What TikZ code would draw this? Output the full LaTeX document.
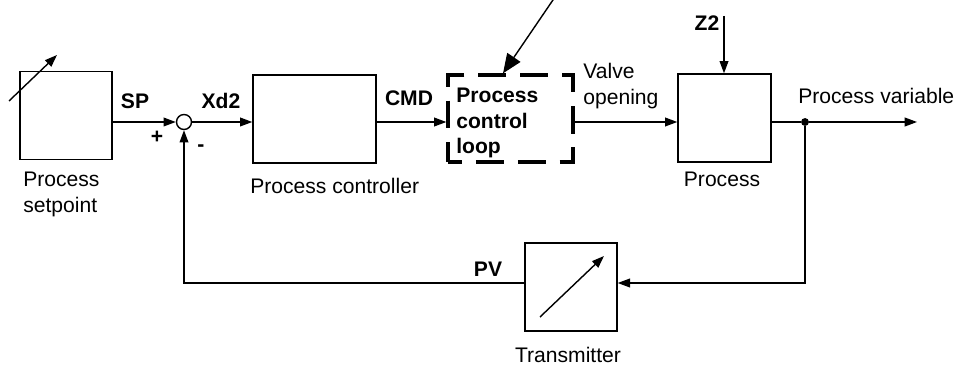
\documentclass[tikz,border=0pt]{standalone}
\usepackage{fontspec}
\setmainfont{Liberation Sans}
\usetikzlibrary{arrows.meta, positioning, calc}

\begin{document}
\begin{tikzpicture}[x=0.02cm, y=-0.02cm, font=\fontsize{12}{14.5}\selectfont,
  block/.style={draw, line width=0.8pt, minimum height=1.76cm, inner sep=0pt},
  sumpt/.style={draw, circle, line width=0.8pt, minimum size=0.3cm, inner sep=0pt},
  dashblock/.style={draw, line width=1.9pt, dash pattern=on 15.9pt off 7.9pt, dash phase=7.9pt,
                    minimum width=2.5cm, minimum height=1.74cm, inner sep=0pt},
  arrow/.style={-{Triangle[length=7pt,width=5pt]}, line width=0.8pt},
  bigarrow/.style={-{Triangle[length=11pt,width=9pt]}, line width=0.8pt},
  sig/.style={font=\fontsize{12}{14.5}\selectfont\bfseries, inner sep=0pt, anchor=north},
  caption/.style={inner sep=0pt, anchor=north, align=center}
]
  \useasboundingbox (0,0) rectangle (959,367);

  % blocks
  \node[block, minimum width=1.84cm] (sp) at (66,115.5) {};
  \node[sumpt] (sum) at (184,122) {};
  \node[block, minimum width=2.46cm] (ctrl) at (314.5,119) {};
  \node[dashblock] (loop) at (510.5,118.5) {};
  \node[block, minimum width=1.86cm] (proc) at (724.5,118) {};
  \node[block, minimum width=1.84cm] (tx) at (571,287) {};
  \node[circle, fill, inner sep=0pt, minimum size=4.5pt] (dot) at (805,122) {};
  \coordinate (out) at (917,122);
  \coordinate (fb) at (805,283);
  \coordinate (z2) at (724,16);
  \coordinate (ptr) at (555,-3);

  % adjustable arrows inside blocks
  \draw[arrow] (9,101) -- (57,55);
  \draw[arrow] (540,317) -- (604,256);

  % signal path
  \draw[arrow] (sum -| sp.east) -- (sum.west);
  \draw[arrow] (sum.east) -- (sum -| ctrl.west);
  \draw[arrow] (sum -| ctrl.east) -- (sum -| loop.west);
  \draw[arrow] (sum -| loop.east) -- (sum -| proc.west);
  \draw[line width=0.8pt] (sum -| proc.east) -- (dot);
  \draw[arrow] (dot) -- (out);
  \draw[arrow] (z2) -- (z2 |- proc.north);
  \draw[bigarrow] (ptr) -- ([xshift=-0.15cm]loop.north);

  % feedback
  \draw[arrow] (dot) -- (fb) -- (fb -| tx.east);
  \draw[arrow] (fb -| tx.west) -| (sum.south);

  % labels
  \node[sig] (splbl) at (135,93) {SP};
  \node[sig] (xdlbl) at (221,93) {Xd2};
  \node[sig] (cmdlbl) at (409,90) {CMD};
  \node[sig] (z2lbl) at (707,15) {Z2};
  \node[sig] (pvlbl) at (488,262) {PV};
  \node[sig, anchor=center] (plus) at (157,137) {+};
  \node[sig, anchor=center] (minus) at (201,148) {-};
  \node[sig, anchor=north west, align=left] (looplbl) at (456,88) {Process\\control\\loop};
  \node[caption, anchor=north west, align=left] (valvelbl) at (583,63) {Valve\\opening};
  \node[caption, anchor=north west] (pvarlbl) at (798,88) {Process variable};

  \node[caption, anchor=north west, align=left] (splbl2) at (23,172) {Process\\setpoint};
  \node[caption, anchor=north west] (ctrllbl) at (250,178) {Process controller};
  \node[caption] (proclbl) at (722,172) {Process};
  \node[caption] (txlbl) at (568,347) {Transmitter};
\end{tikzpicture}
\end{document}
